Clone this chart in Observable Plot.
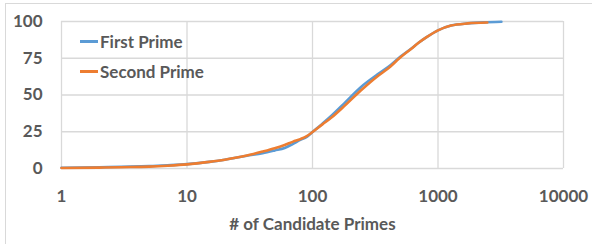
<!DOCTYPE html>
<html><head><meta charset="utf-8">
<script src="https://cdn.jsdelivr.net/npm/d3@7"></script>
<script src="https://cdn.jsdelivr.net/npm/@observablehq/plot@0.6"></script>
<style>
body{margin:0;background:#fff;font-family:Lato,"Open Sans",sans-serif;}
#wrap{position:relative;width:592px;height:244px;overflow:hidden;}
#frame{position:absolute;left:5px;top:3px;width:620px;height:280px;border:1.5px solid #d9d9d9;box-sizing:border-box;}
.leg{position:absolute;left:80px;font:bold 17px Lato,sans-serif;color:#595959;display:flex;align-items:center;}
.leg span.ln{display:inline-block;width:18px;height:3px;margin-right:2px;}
</style></head>
<body><div id="wrap"><div id="frame"></div></div>
<script>
const firstX = [1,2,3,5,7,10,15,20,30,40,50,60,70,80,90,100,120,140,180,240,330,400,500,610,700,800,1000,1270,1730,2300,3200];
const firstY = [0.5,0.9,1.2,1.6,2.2,3,4.5,6,8.7,10.4,12.3,14,16.8,19.5,21.5,24.8,30.5,35.5,44.5,55,64,69,76,81.5,85.5,89,94,97.2,98.7,99.4,99.8];
const secondX = [1,2,3,5,7,10,15,20,30,40,50,60,70,80,90,100,120,140,180,240,330,400,500,610,700,800,1000,1270,1730,2470];
const secondY = [0.3,0.6,0.9,1.3,1.9,2.8,4.5,6,8.8,11.5,13.8,16,18.3,20,22,24.8,30,34.3,42.6,52.7,62.8,68,75.5,81.3,85.5,89,94,97.2,98.7,99.3];
const seriesNames = ["First Prime","Second Prime"];
const colors = ["#5B9BD5","#ED7D31"];
const xTicks = [1,10,100,1000,10000];
const yTicks = [0,25,50,75,100];

const data = [
  ...firstX.map((x,i)=>({s:seriesNames[0],x,y:firstY[i]})),
  ...secondX.map((x,i)=>({s:seriesNames[1],x,y:secondY[i]}))
];

const chart = Plot.plot({
  width:592,height:244,
  marginLeft:61,marginRight:29,marginTop:21,marginBottom:76,
  style:{background:"transparent",fontFamily:"Lato, sans-serif",fontWeight:"bold",fontSize:"17px",color:"#595959"},
  x:{type:"log",domain:[1,10000],ticks:xTicks,tickFormat:d=>String(d),tickSize:0,tickPadding:21,label:"# of Candidate Primes",labelAnchor:"center",labelArrow:"none",labelOffset:61},
  y:{domain:[0,100],ticks:yTicks,tickSize:0,tickPadding:19,label:null},
  color:{domain:seriesNames,range:colors},
  marks:[
    Plot.gridX(xTicks,{stroke:"#d9d9d9",strokeOpacity:1,strokeWidth:1.3}),
    Plot.gridY(yTicks,{stroke:"#d9d9d9",strokeOpacity:1,strokeWidth:1.3}),
    Plot.line(data,{x:"x",y:"y",z:"s",stroke:"s",strokeWidth:2.6,curve:"monotone-x"})
  ]
});
chart.style.position="absolute";chart.style.left="0";chart.style.top="0";
document.getElementById("wrap").appendChild(chart);
seriesNames.forEach((n,i)=>{
  const d=document.createElement("div");d.className="leg";
  d.style.top=(i===0?31:61)+"px";
  d.innerHTML=`<span class="ln" style="background:${colors[i]}"></span>${n}`;
  document.getElementById("wrap").appendChild(d);
});
</script></body></html>
